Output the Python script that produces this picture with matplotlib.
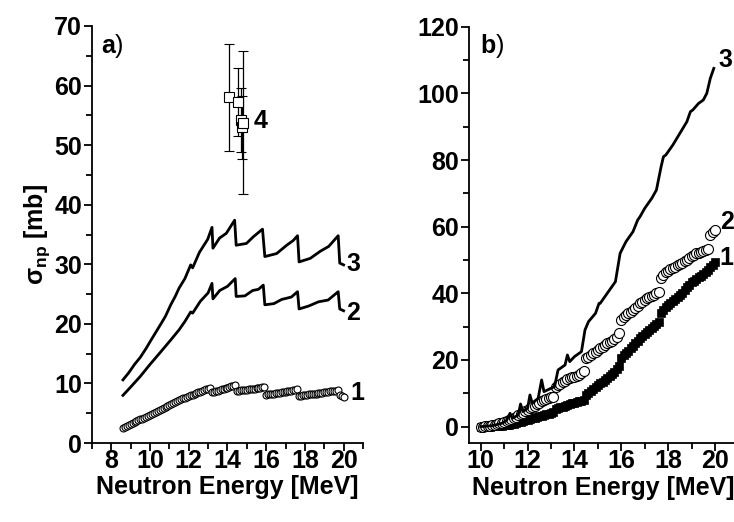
import matplotlib
matplotlib.use('Agg')
import matplotlib.pyplot as plt
from matplotlib.ticker import MultipleLocator

plt.rcParams['font.family'] = ['Liberation Sans', 'DejaVu Sans']
plt.rcParams['mathtext.fontset'] = 'custom'
plt.rcParams['mathtext.rm'] = 'Liberation Sans:bold'
plt.rcParams['mathtext.bf'] = 'Liberation Sans:bold'

# ---- panel a) ----
# curve 3 (line)
a3_x = [8.6, 8.9, 9.2, 9.5, 9.8, 10.0, 10.3, 10.6, 10.8, 11.07, 11.3, 11.5, 11.8, 12.1, 12.2,
        12.55, 12.98, 13.2, 13.25, 13.59, 13.94, 14.37, 14.45, 14.98, 15.33, 15.81, 15.93,
        16.54, 17.06, 17.4, 17.62, 17.7, 18.28, 18.8, 19.23, 19.72, 19.8, 20.0]
a3_y = [10.6, 11.8, 13.2, 14.4, 15.9, 17.0, 18.6, 20.2, 21.3, 23.2, 24.6, 26.0, 27.6, 29.9, 29.4,
        32.0, 34.2, 36.2, 32.7, 34.4, 35.2, 37.4, 33.2, 33.5, 34.6, 35.9, 31.3,
        31.8, 33.2, 34.0, 34.8, 30.4, 31.0, 32.2, 33.0, 34.8, 30.2, 29.9]
# curve 2 (line)
a2_x = [8.6, 9.0, 9.5, 10.0, 10.5, 11.07, 11.5, 11.8, 12.1, 12.2, 12.6, 13.0, 13.2, 13.25,
        13.6, 14.0, 14.4, 14.45, 14.9, 15.3, 15.6, 15.85, 15.93, 16.4, 16.8, 17.3, 17.62,
        17.7, 18.2, 18.7, 19.2, 19.72, 19.8, 20.0]
a2_y = [8.0, 9.4, 11.2, 13.2, 15.1, 17.3, 19.0, 20.4, 22.0, 21.8, 23.8, 25.2, 26.8, 24.2,
        25.6, 26.3, 27.6, 24.6, 24.7, 25.6, 25.8, 26.5, 23.2, 23.4, 24.1, 24.5, 25.4,
        22.5, 23.0, 23.7, 24.0, 25.4, 22.5, 22.2]
# curve 1 (open circles)
a1_x = [8.6, 8.7, 8.8, 8.9, 9.0, 9.1, 9.2, 9.3, 9.4, 9.5, 9.6, 9.7, 9.8, 9.9, 10.0, 10.1,
        10.2, 10.3, 10.4, 10.5, 10.6, 10.7, 10.8, 10.9, 11.0, 11.1, 11.2, 11.3, 11.4, 11.5,
        11.6, 11.7, 11.8, 11.9, 12.0, 12.1, 12.2, 12.3, 12.4, 12.5, 12.6, 12.7, 12.8, 12.9,
        13.0, 13.1,
        13.2, 13.3, 13.4, 13.5, 13.6, 13.7, 13.8, 13.9, 14.0, 14.1, 14.2, 14.3, 14.4,
        14.5, 14.6, 14.7, 14.8, 14.9, 15.0, 15.1, 15.2, 15.3, 15.4, 15.5, 15.6, 15.7, 15.8, 15.9,
        16.0, 16.1, 16.2, 16.3, 16.4, 16.5, 16.6, 16.7, 16.8, 16.9, 17.0, 17.1, 17.2, 17.3,
        17.4, 17.5, 17.6,
        17.7, 17.8, 17.9, 18.0, 18.1, 18.2, 18.3, 18.4, 18.5, 18.6, 18.7, 18.8, 18.9, 19.0,
        19.1, 19.2, 19.3, 19.4, 19.5, 19.6, 19.7,
        19.8, 19.9, 20.0]
a1_y = [2.6, 2.75, 2.9, 3.05, 3.2, 3.35, 3.5, 3.65, 3.8, 3.95, 4.1, 4.25, 4.4, 4.55, 4.7, 4.9,
        5.05, 5.25, 5.4, 5.6, 5.75, 5.9, 6.05, 6.25, 6.4, 6.55, 6.7, 6.9, 7.05, 7.2,
        7.35, 7.5, 7.6, 7.75, 7.9, 8.0, 8.1, 8.25, 8.4, 8.5, 8.6, 8.75, 8.9, 9.0,
        9.15, 9.3,
        8.5, 8.6, 8.7, 8.8, 8.9, 9.0, 9.1, 9.2, 9.3, 9.4, 9.5, 9.6, 9.8,
        8.8, 8.8, 8.85, 8.9, 8.9, 8.95, 9.0, 9.05, 9.1, 9.15, 9.2, 9.25, 9.3, 9.35, 9.4,
        8.1, 8.15, 8.2, 8.25, 8.3, 8.35, 8.4, 8.45, 8.5, 8.55, 8.6, 8.65, 8.7, 8.8,
        8.85, 8.9, 9.0,
        7.9, 7.95, 8.0, 8.05, 8.1, 8.15, 8.2, 8.2, 8.25, 8.3, 8.35, 8.4, 8.45, 8.5,
        8.55, 8.6, 8.65, 8.7, 8.75, 8.8, 8.9,
        8.0, 7.9, 7.8]
# points 4 (open squares with error bars)
a4_x = [14.1, 14.55, 14.7, 14.75, 14.8]
a4_y = [58.0, 57.2, 54.2, 53.0, 53.8]
a4_err = [9.0, 5.7, 5.4, 5.3, 12.0]

# ---- panel b) ----
b3_x = [10.0, 10.5, 10.9, 11.1, 11.25, 11.35, 11.6, 11.7, 11.8, 12.0, 12.1, 12.2, 12.45, 12.6,
        12.7, 13.0, 13.15, 13.3, 13.5, 13.6, 13.7, 13.8, 14.0, 14.3, 14.45, 14.6, 14.9, 15.05,
        15.1, 15.4, 15.75, 15.95, 16.2, 16.5, 16.7, 16.8, 17.0, 17.3, 17.5, 17.7, 17.8, 17.9,
        18.2, 18.5, 18.8, 18.95, 19.05, 19.3, 19.5, 19.65, 19.8, 19.95]
b3_y = [0.0, 0.3, 1.0, 1.8, 4.0, 2.5, 3.5, 6.8, 4.5, 5.5, 9.5, 7.0, 8.5, 14.0,
        10.5, 11.5, 12.0, 17.0, 18.0, 18.5, 21.5, 19.5, 21.0, 22.5, 29.0, 31.5, 34.0, 37.0,
        37.0, 40.0, 43.5, 52.0, 55.5, 58.5, 62.0, 63.0, 65.5, 68.5, 71.0, 78.0, 81.0, 81.5,
        84.5, 88.0, 91.5, 94.5, 95.0, 97.0, 98.0, 100.0, 104.5, 107.5]
b2_x = [10.0, 10.1, 10.2, 10.3, 10.4, 10.5, 10.6, 10.7, 10.8, 10.9, 11.0, 11.1, 11.2, 11.3,
        11.4, 11.5, 11.6, 11.7, 11.8, 11.9, 12.0, 12.1, 12.2, 12.3, 12.4, 12.5, 12.6, 12.7,
        12.8, 12.9, 13.0, 13.1,
        13.2, 13.3, 13.4, 13.5, 13.6, 13.7, 13.8, 13.9, 14.0, 14.1, 14.2, 14.3, 14.4,
        14.5, 14.6, 14.7, 14.8, 14.9, 15.0, 15.1, 15.2, 15.3, 15.4, 15.5, 15.6, 15.7, 15.8, 15.9,
        16.0, 16.1, 16.2, 16.3, 16.4, 16.5, 16.6, 16.7, 16.8, 16.9, 17.0, 17.1, 17.2, 17.3,
        17.4, 17.5, 17.6,
        17.7, 17.8, 17.9, 18.0, 18.1, 18.2, 18.3, 18.4, 18.5, 18.6, 18.7, 18.8, 18.9, 19.0,
        19.1, 19.2, 19.3, 19.4, 19.5, 19.6, 19.7,
        19.8, 19.9, 20.0]
b2_y = [0.0, 0.0, 0.1, 0.2, 0.3, 0.4, 0.6, 0.8, 1.0, 1.2, 1.4, 1.7, 2.0, 2.3,
        2.7, 3.0, 3.4, 3.8, 4.2, 4.6, 5.0, 5.5, 5.9, 6.3, 6.8, 7.2, 7.6, 7.9,
        8.2, 8.5, 8.8, 9.0,
        12.0, 12.4, 12.8, 13.3, 13.7, 14.2, 14.5, 14.8, 15.0, 15.3, 15.6, 16.0, 16.8,
        20.5, 21.0, 21.5, 22.0, 22.5, 23.0, 23.5, 24.0, 24.5, 25.0, 25.4, 25.8, 26.3, 26.8, 28.0,
        32.0, 32.8, 33.4, 34.0, 34.5, 35.0, 35.5, 36.3, 37.0, 37.5, 38.0, 38.5, 38.8, 39.2,
        39.6, 40.0, 40.4,
        44.5, 45.5, 46.3, 46.8, 47.2, 47.6, 48.0, 48.4, 48.8, 49.2, 49.6, 50.0, 50.6, 51.2,
        51.6, 52.0, 52.2, 52.4, 52.6, 52.9, 53.4,
        57.5, 58.3, 59.0]
b1_x = b2_x
b1_y = [0.0, 0.0, 0.0, 0.0, 0.0, 0.1, 0.1, 0.2, 0.2, 0.3, 0.4, 0.5, 0.6, 0.8,
        0.9, 1.1, 1.3, 1.5, 1.7, 1.9, 2.1, 2.3, 2.5, 2.7, 2.9, 3.1, 3.3, 3.5,
        3.7, 3.9, 4.1, 4.3,
        5.2, 5.5, 5.8, 6.0, 6.3, 6.5, 6.8, 7.0, 7.2, 7.4, 7.6, 7.8, 8.0,
        9.5, 10.2, 10.8, 11.4, 12.0, 12.6, 13.0, 13.5, 14.1, 14.7, 15.2, 15.8, 16.5, 17.3, 18.2,
        20.5, 21.5, 22.2, 22.8, 23.5, 24.2, 25.0, 25.8, 26.5, 27.2, 27.8, 28.4, 29.0, 29.6,
        30.2, 30.8, 31.5,
        34.0, 35.0, 35.8, 36.5, 37.1, 37.7, 38.3, 38.9, 39.5, 40.2, 41.0, 41.8, 42.6, 43.3,
        43.8, 44.3, 44.8, 45.3, 45.8, 46.4, 47.0,
        47.8, 48.5, 49.3]

FS = 18


def style_axes(ax):
    for side in ['top', 'right']:
        ax.spines[side].set_visible(False)
    for side in ['left', 'bottom']:
        ax.spines[side].set_linewidth(1.3)
    ax.tick_params(which='major', direction='out', length=6, width=1.3, labelsize=FS)
    ax.tick_params(which='minor', direction='out', length=4, width=1.3)
    ax.tick_params(axis='x', which='major', pad=-2)
    ax.tick_params(axis='y', which='major', pad=1)
    for lab in ax.get_xticklabels() + ax.get_yticklabels():
        lab.set_fontweight('bold')


fig = plt.figure(figsize=(7.34, 5.22), dpi=100)

# ---- a) ----
ax1 = fig.add_axes([0.1253, 0.1513, 0.3692, 0.7989])
ax1.plot(a3_x, a3_y, color='black', lw=2.0)
ax1.plot(a2_x, a2_y, color='black', lw=2.0)
ax1.plot(a1_x, a1_y, linestyle='none', marker='o', ms=5, mfc='white', mec='black', mew=0.8)
ax1.errorbar(a4_x, a4_y, yerr=a4_err, fmt='s', ms=7, mfc='white', mec='black', mew=0.8,
             ecolor='black', elinewidth=0.9, capsize=3.5, capthick=0.9)
ax1.set_xlim(7, 21)
ax1.set_ylim(0, 70)
ax1.xaxis.set_major_locator(MultipleLocator(2))
ax1.xaxis.set_minor_locator(MultipleLocator(1))
ax1.yaxis.set_major_locator(MultipleLocator(10))
ax1.yaxis.set_minor_locator(MultipleLocator(5))
style_axes(ax1)
ax1.set_xlabel('Neutron Energy [MeV]', fontsize=18, fontweight='bold', labelpad=2)
ax1.set_ylabel(r'$\mathrm{\sigma}_{\mathrm{np}}$ [mb]', fontsize=18, fontweight='bold', labelpad=2)
ax1.text(7.45, 65.5, r'$\mathbf{a}$)', fontsize=FS, va='baseline')
ax1.text(20.15, 30.0, '3', fontsize=18, fontweight='bold', va='center')
ax1.text(20.15, 21.8, '2', fontsize=18, fontweight='bold', va='center')
ax1.text(20.35, 8.4, '1', fontsize=18, fontweight='bold', va='center')
ax1.text(15.35, 54.0, '4', fontsize=18, fontweight='bold', va='center')

# ---- b) ----
ax2 = fig.add_axes([0.639, 0.1508, 0.367, 0.798])
ax2.plot(b1_x, b1_y, linestyle='none', marker='s', ms=6.2, mfc='black', mec='black', mew=0.5)
ax2.plot(b2_x, b2_y, linestyle='none', marker='o', ms=7.2, mfc='white', mec='black', mew=0.8)
ax2.plot(b3_x, b3_y, color='black', lw=2.0)
ax2.set_xlim(9.5, 21)
ax2.set_ylim(-5, 120)
ax2.xaxis.set_major_locator(MultipleLocator(2))
ax2.xaxis.set_minor_locator(MultipleLocator(1))
ax2.yaxis.set_major_locator(MultipleLocator(20))
ax2.yaxis.set_minor_locator(MultipleLocator(10))
style_axes(ax2)
ax2.set_xlabel('Neutron Energy [MeV]', fontsize=18, fontweight='bold', labelpad=2)
ax2.text(9.97, 112, r'$\mathbf{b}$)', fontsize=FS, va='baseline')
ax2.text(20.15, 110, '3', fontsize=18, fontweight='bold', va='center')
ax2.text(20.2, 61.5, '2', fontsize=18, fontweight='bold', va='center')
ax2.text(20.2, 50.5, '1', fontsize=18, fontweight='bold', va='center')

fig.savefig('out.png', dpi=100)
